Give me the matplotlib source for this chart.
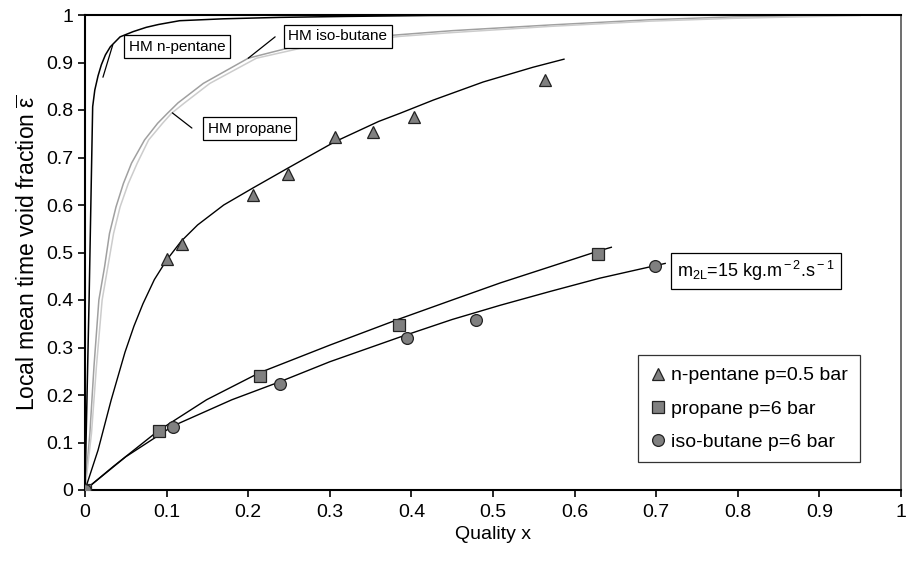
import matplotlib
matplotlib.use("Agg")
import matplotlib.pyplot as plt
from matplotlib.lines import Line2D

plt.rcParams['font.family'] = ['Liberation Sans', 'DejaVu Sans']
plt.rcParams['mathtext.fontset'] = 'custom'
plt.rcParams['mathtext.rm'] = 'Liberation Sans'
plt.rcParams['mathtext.it'] = 'Liberation Sans'

# ---- experimental data ----
pent_x = [0.0, 0.100, 0.119, 0.206, 0.249, 0.306, 0.353, 0.403, 0.564]
pent_y = [0.0, 0.486, 0.518, 0.621, 0.665, 0.743, 0.754, 0.785, 0.863]
prop_x = [0.0, 0.091, 0.214, 0.385, 0.629]
prop_y = [0.0, 0.124, 0.240, 0.347, 0.497]
ibut_x = [0.0, 0.108, 0.239, 0.395, 0.479, 0.699]
ibut_y = [0.0, 0.133, 0.223, 0.320, 0.358, 0.472]

# ---- fit curves ----
pent_fit_x = [0.0, 0.016, 0.032, 0.049, 0.060, 0.071, 0.085, 0.100, 0.118, 0.138, 0.17, 0.206, 0.249,
              0.306, 0.36, 0.386, 0.427, 0.488, 0.549, 0.587]
pent_fit_y = [0.0, 0.084, 0.189, 0.290, 0.345, 0.392, 0.443, 0.484, 0.524, 0.558, 0.60, 0.636, 0.678,
              0.733, 0.776, 0.793, 0.821, 0.859, 0.890, 0.907]
prop_fit_x = [0.0, 0.035, 0.09, 0.149, 0.214, 0.30, 0.385, 0.45, 0.509, 0.57, 0.629, 0.645]
prop_fit_y = [0.0, 0.05, 0.125, 0.19, 0.247, 0.305, 0.36, 0.40, 0.436, 0.47, 0.503, 0.511]
ibut_fit_x = [0.0, 0.05, 0.108, 0.18, 0.239, 0.30, 0.386, 0.45, 0.509, 0.57, 0.631, 0.711]
ibut_fit_y = [0.0, 0.07, 0.135, 0.19, 0.228, 0.27, 0.322, 0.359, 0.389, 0.418, 0.446, 0.477]

# ---- homogeneous model curves ----
hm_pent_x = [0.0, 0.005, 0.0094, 0.012, 0.016, 0.020, 0.025, 0.031, 0.043, 0.059, 0.075, 0.09, 0.116,
             0.17, 0.239, 0.32, 0.423, 0.6, 1.0]
hm_pent_y = [0.0, 0.40, 0.807, 0.842, 0.872, 0.895, 0.916, 0.933, 0.954, 0.965, 0.974, 0.980, 0.988,
             0.992, 0.995, 0.997, 0.999, 1.0, 1.0]
hm_ibut_x = [0.0, 0.006, 0.011, 0.017, 0.024, 0.030, 0.038, 0.047, 0.057, 0.073, 0.089, 0.101, 0.114,
             0.145, 0.200, 0.255, 0.30, 0.374, 0.45, 0.57, 0.692, 0.794, 0.94]
hm_ibut_y = [0.0, 0.12, 0.26, 0.40, 0.47, 0.54, 0.596, 0.645, 0.688, 0.737, 0.772, 0.793, 0.815,
             0.856, 0.909, 0.933, 0.944, 0.957, 0.967, 0.979, 0.990, 0.996, 1.0]
hm_prop_x = [0.0, 0.008, 0.014, 0.021, 0.028, 0.035, 0.043, 0.053, 0.064, 0.078, 0.095, 0.106, 0.122,
             0.153, 0.210, 0.272, 0.32, 0.386, 0.45, 0.57, 0.692, 0.794, 0.95]
hm_prop_y = [0.0, 0.12, 0.26, 0.40, 0.47, 0.54, 0.596, 0.645, 0.688, 0.737, 0.772, 0.793, 0.815,
             0.856, 0.909, 0.933, 0.943, 0.955, 0.963, 0.976, 0.987, 0.993, 0.999]

xticks = [0, 0.1, 0.2, 0.3, 0.4, 0.5, 0.6, 0.7, 0.8, 0.9, 1]
xtick_labels = ['0', '0.1', '0.2', '0.3', '0.4', '0.5', '0.6', '0.7', '0.8', '0.9', '1']
yticks = xticks
ytick_labels = xtick_labels

fig = plt.figure(figsize=(9.06, 5.62), dpi=100)
ax = fig.add_axes([85/906, 72/562, 816/906, 475/562])

ax.plot(hm_ibut_x, hm_ibut_y, color='#a0a0a0', lw=1.1, zorder=2, solid_joinstyle='round')
ax.plot(hm_prop_x, hm_prop_y, color='#cccccc', lw=1.1, zorder=2, solid_joinstyle='round')
ax.plot(hm_pent_x, hm_pent_y, color='black', lw=1.1, zorder=3, solid_joinstyle='round')

ax.plot(pent_fit_x, pent_fit_y, color='black', lw=1.0, zorder=3, solid_joinstyle='round')
ax.plot(prop_fit_x, prop_fit_y, color='black', lw=1.0, zorder=3, solid_joinstyle='round')
ax.plot(ibut_fit_x, ibut_fit_y, color='black', lw=1.0, zorder=3, solid_joinstyle='round')

mk = dict(linestyle='none', markerfacecolor='#808080', markeredgecolor='#222222', markeredgewidth=0.9, zorder=5)
ax.plot(pent_x, pent_y, marker='^', markersize=9, **mk)
ax.plot(prop_x, prop_y, marker='s', markersize=8, **mk)
ax.plot(ibut_x, ibut_y, marker='o', markersize=8.5, **mk)

ax.set_xlim(0, 1)
ax.set_ylim(0, 1)
ax.set_xticks(xticks)
ax.set_xticklabels(xtick_labels)
ax.set_yticks(yticks)
ax.set_yticklabels(ytick_labels)
ax.tick_params(direction='out', length=5, width=1.2, labelsize=14, colors='black')
ax.tick_params(axis='x', pad=5)
for s in ['left', 'bottom', 'top']:
    ax.spines[s].set_linewidth(1.5)
    ax.spines[s].set_color('black')
ax.spines['right'].set_linewidth(1.2)
ax.spines['right'].set_color('#555555')

ax.set_xlabel('Quality x', fontsize=14, labelpad=4)
ax.set_ylabel(r'Local mean time void fraction $\overline{\varepsilon}$', fontsize=16.5, labelpad=4)

# HM labels with leader lines
box = dict(boxstyle='square,pad=0.3', facecolor='white', edgecolor='black', linewidth=0.9)
lead = dict(arrowstyle='-', color='black', lw=0.9, shrinkA=0, shrinkB=0)
ax.annotate('', xy=(0.022, 0.869), xytext=(0.034, 0.937), arrowprops=lead, zorder=4)
ax.text(0.113, 0.933, 'HM n-pentane', fontsize=11, ha='center', va='center', bbox=box, zorder=6)
ax.annotate('', xy=(0.200, 0.909), xytext=(0.233, 0.954), arrowprops=lead, zorder=4)
ax.text(0.310, 0.955, 'HM iso-butane', fontsize=11, ha='center', va='center', bbox=box, zorder=6)
ax.annotate('', xy=(0.107, 0.794), xytext=(0.131, 0.762), arrowprops=lead, zorder=4)
ax.text(0.202, 0.761, 'HM propane', fontsize=11, ha='center', va='center', bbox=box, zorder=6)

ax.text(0.822, 0.461, r'm$_{\rm 2L}$=15 kg.m$^{\rm -2}$.s$^{\rm -1}$', fontsize=13,
        ha='center', va='center', bbox=dict(boxstyle='square,pad=0.35', facecolor='white',
                                           edgecolor='black', linewidth=0.9), zorder=6)

handles = [Line2D([], [], marker='^', markersize=9, **mk),
           Line2D([], [], marker='s', markersize=8, **mk),
           Line2D([], [], marker='o', markersize=8.5, **mk)]
labels = ['n-pentane p=0.5 bar', 'propane p=6 bar', 'iso-butane p=6 bar']
leg = ax.legend(handles, labels, loc='upper left', bbox_to_anchor=(0.678, 0.284),
                fontsize=14, frameon=True, fancybox=False, edgecolor='black',
                handlelength=0.8, handletextpad=0.3, labelspacing=0.8,
                borderpad=0.6, borderaxespad=0)
leg.get_frame().set_linewidth(0.9)

fig.savefig('out.png', dpi=100)
